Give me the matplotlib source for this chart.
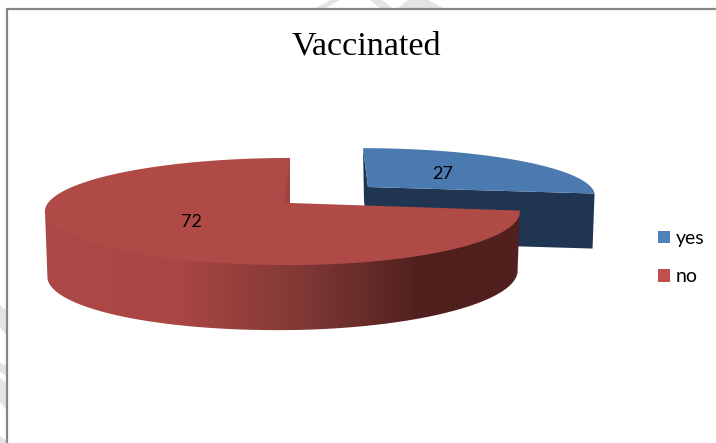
"""Vaccinated: exploded 3D style pie, drawn in pixel coordinates."""
import matplotlib
matplotlib.use("Agg")
import matplotlib.pyplot as plt
import numpy as np
from matplotlib.colors import LinearSegmentedColormap
from matplotlib.patches import Patch, PathPatch, Polygon
from matplotlib.path import Path

labels = ["yes", "no"]
values = [27, 72]
title = "Vaccinated"

W, H = 716, 443
PERSP = 0.159


def ring(t_deg, cx, cy, rx_left, rx_right, ry, shear=0.0):
    # circle seen in perspective, t clockwise from 12 o'clock
    t = np.radians(t_deg)
    x, y = np.sin(t), -np.cos(t)
    w = 1 - PERSP * y
    rx = np.where(x < 0, rx_left, rx_right)
    return np.column_stack([cx + rx * x / w + shear * y, cy + ry * y / w])


split = values[0] / sum(values) * 360

fig = plt.figure(figsize=(W / 100, H / 100), dpi=100)
ax = fig.add_axes([0, 0, 1, 1])

# watermark stripes showing behind the chart
for pts in [[(316, 8), (330, 0), (340, 0), (326, 8)], [(370, 0), (382, 0), (392, 8), (380, 8)],
            [(398, 8), (408, 0), (428, 0), (443, 8)], [(0, 305), (7, 311), (7, 335), (0, 328)],
            [(0, 362), (7, 366), (7, 376), (0, 372)], [(0, 378), (7, 384), (7, 410), (0, 402)],
            [(0, 436), (7, 441), (7, 443), (0, 443)]]:
    ax.add_patch(Polygon(pts, fc="#e4e4e4", ec="none", zorder=0))

# frame, only top and left are in the crop
ax.plot([7, 7, W], [H, 9, 9], color="#868686", lw=1.6, zorder=1, solid_joinstyle="miter")

# blue slice
blue_t = np.linspace(0, split, 80)
blue_top = ring(blue_t, 368, 187, 223, 223, 45, shear=5)
apex_b = (368, 187)
corner_b = blue_top[-1]
ax.add_patch(Polygon([blue_top[0], apex_b, (368, 242), (364, 200)], fc="#1f3551", ec="none", zorder=2))
ax.add_patch(Polygon([apex_b, corner_b, (corner_b[0] - 2, corner_b[1] + 55), (368, 242)],
                     fc="#1f3551", ec="none", zorder=2))
ax.add_patch(Polygon(np.vstack([blue_top, [apex_b]]), fc="#4a7ab0", ec="none", zorder=3))

# red slice
red_t = np.linspace(split, 360, 200)
red_top = ring(red_t, 290, 203, 242, 227, 52.2)
apex_r = (290, 203)
front = red_t <= 262
edge = red_top[front]
lower = edge.copy()
lower[:, 0] = 290 + (lower[:, 0] - 290) * 0.99
lower[:, 1] += 61 + 3 * (edge[:, 1] - 211) / 54 + 1 - 3 * (edge[:, 0] - 290) / 245
# start the side a little under the top face so no seam shows
upper = edge - [0, 2]
side = Path(np.vstack([upper, lower[::-1], upper[:1]]))
cmap = LinearSegmentedColormap.from_list(
    "side", [(0, "#ac4845"), (0.28, "#aa4643"), (0.55, "#7f3835"), (0.8, "#4e1f1d"), (1, "#52201e")])
im = ax.imshow(np.linspace(0, 1, 256)[None, :], cmap=cmap, extent=(45, 520, 340, 200), aspect="auto", zorder=4)
clip = PathPatch(side, fc="none", ec="none", transform=ax.transData)
ax.add_patch(clip)
im.set_clip_path(clip)
ax.add_patch(Polygon(np.vstack([red_top, [apex_r]]), fc="#b04a46", ec="none", zorder=5))
ax.add_patch(Polygon([(290, 158), apex_r, (284, 203)], fc="#a34240", ec="none", zorder=6))

# data labels
ax.text(443, 174, str(values[0]), ha="center", va="center", fontsize=13, family="Lato", zorder=7)
ax.text(191, 222, str(values[1]), ha="center", va="center", fontsize=13, family="Lato", zorder=7)

ax.text(366.5, 46, title, ha="center", va="center", fontsize=24.6, family="Liberation Serif", color="black")

handles = [Patch(fc="#4f81bd", ec="none", label=labels[0]), Patch(fc="#c0504d", ec="none", label=labels[1])]
ax.legend(handles=handles, loc="center left", bbox_to_anchor=(658, 257.5), bbox_transform=ax.transData,
          frameon=False, prop={"family": "Lato", "size": 14}, handlelength=0.6, handleheight=0.6,
          handletextpad=0.32, labelspacing=1.1, borderpad=0, borderaxespad=0)

ax.set_xlim(0, W)
ax.set_ylim(H, 0)
ax.axis("off")
fig.savefig("out.png", dpi=100, facecolor="white")
